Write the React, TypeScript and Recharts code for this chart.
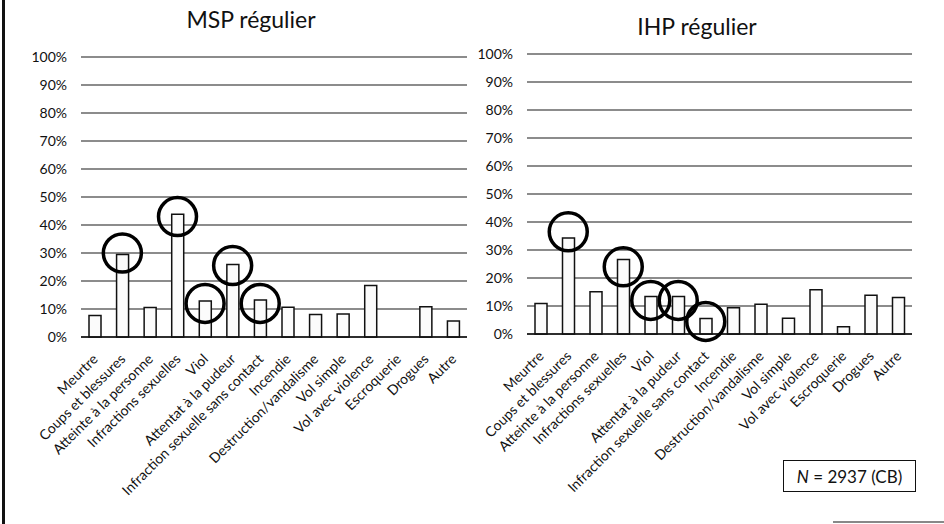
import React from 'react'
import { BarChart, Bar, XAxis, YAxis, CartesianGrid, ReferenceDot } from 'recharts'

const categories = [
  'Meurtre',
  'Coups et blessures',
  'Atteinte à la personne',
  'Infractions sexuelles',
  'Viol',
  'Attentat à la pudeur',
  'Infraction sexuelle sans contact',
  'Incendie',
  'Destruction/vandalisme',
  'Vol simple',
  'Vol avec violence',
  'Escroquerie',
  'Drogues',
  'Autre',
]

const mspValues = [7.7, 29.5, 10.5, 43.8, 12.9, 25.9, 13.2, 10.6, 8.0, 8.2, 18.4, 0, 10.8, 5.7]
const ihpValues = [10.9, 34.3, 15.1, 26.6, 13.4, 13.4, 5.5, 9.4, 10.6, 5.6, 15.8, 2.6, 13.8, 13.0]

// circled categories and the value where each circle sits
const mspCircled = ['Coups et blessures', 'Infractions sexuelles', 'Viol', 'Attentat à la pudeur', 'Infraction sexuelle sans contact']
const mspCircleAt = [30, 43, 12, 25.5, 12]
const ihpCircled = ['Coups et blessures', 'Infractions sexuelles', 'Viol', 'Attentat à la pudeur', 'Infraction sexuelle sans contact']
const ihpCircleAt = [36.5, 24, 12, 12, 4.5]

const yTicks = [0, 10, 20, 30, 40, 50, 60, 70, 80, 90, 100]

const FONT = 'Lato, "Open Sans", sans-serif'

const mspData = categories.map((c, i) => ({ cat: c, v: mspValues[i] }))
const ihpData = categories.map((c, i) => ({ cat: c, v: ihpValues[i] }))

function RotTick(props: any) {
  const { x, y, payload } = props
  const ax = x + 4
  const ay = y + 15
  return (
    <text
      x={ax}
      y={ay}
      textAnchor="end"
      fontSize={14}
      fontFamily={FONT}
      fill="#111"
      transform={`rotate(-45, ${ax}, ${ay})`}
    >
      {payload.value}
    </text>
  )
}

interface PanelProps {
  data: { cat: string; v: number }[]
  circled: string[]
  circleAt: number[]
  width: number
  yWidth: number
  margin: { top: number; right: number; bottom: number; left: number }
  xHeight: number
}

function Panel({ data, circled, circleAt, width, yWidth, margin, xHeight }: PanelProps) {
  return (
    <BarChart width={width} height={524} data={data} margin={margin} barSize={12}>
      <CartesianGrid horizontal vertical={false} stroke="#1a1a1a" strokeWidth={1.2} />
      <XAxis
        dataKey="cat"
        interval={0}
        tickLine={false}
        axisLine={{ stroke: '#111', strokeWidth: 1.5 }}
        height={xHeight}
        tick={<RotTick />}
      />
      <YAxis
        domain={[0, 100]}
        ticks={yTicks}
        width={yWidth}
        axisLine={false}
        tickLine={false}
        tickSize={0}
        tickMargin={14}
        tickFormatter={(v: number) => `${v}%`}
        tick={{ fontSize: 14, fontFamily: FONT, fill: '#111' }}
      />
      <Bar dataKey="v" fill="#fbfbfb" stroke="#111" strokeWidth={1.5} isAnimationActive={false} />
      {circled.map((c, i) => (
        <ReferenceDot
          key={c}
          x={c}
          y={circleAt[i]}
          r={19}
          fill="none"
          stroke="#000"
          strokeWidth={3.5}
        />
      ))}
    </BarChart>
  )
}

export default function App() {
  return (
    <div
      style={{
        position: 'absolute',
        left: 0,
        top: 0,
        width: 944,
        height: 524,
        background: '#fff',
        overflow: 'hidden',
        fontFamily: FONT,
      }}
    >
      <div style={{ position: 'absolute', left: 2, top: 0, width: 3, height: 524, background: '#111' }} />
      <div style={{ position: 'absolute', left: 833, top: 521, width: 111, height: 2, background: '#888' }} />

      <div style={{ position: 'absolute', left: 0, top: 0 }}>
        <Panel
          data={mspData}
          circled={mspCircled}
          circleAt={mspCircleAt}
          width={480}
          yWidth={81}
          margin={{ top: 57, right: 13, bottom: 7, left: 0 }}
          xHeight={180}
        />
      </div>
      <div style={{ position: 'absolute', left: 470, top: 0 }}>
        <Panel
          data={ihpData}
          circled={ihpCircled}
          circleAt={ihpCircleAt}
          width={474}
          yWidth={57}
          margin={{ top: 54, right: 32, bottom: 10, left: 0 }}
          xHeight={180}
        />
      </div>

      <div
        style={{
          position: 'absolute',
          left: 151,
          width: 200,
          top: 5,
          textAlign: 'center',
          fontSize: 23,
          color: '#111',
        }}
      >
        MSP régulier
      </div>
      <div
        style={{
          position: 'absolute',
          left: 597,
          width: 200,
          top: 12,
          textAlign: 'center',
          fontSize: 23,
          color: '#111',
        }}
      >
        IHP régulier
      </div>

      <div
        style={{
          position: 'absolute',
          left: 783,
          top: 460,
          width: 133,
          height: 32,
          border: '1.5px solid #111',
          boxSizing: 'border-box',
          display: 'flex',
          alignItems: 'center',
          justifyContent: 'center',
          fontSize: 17,
          color: '#111',
        }}
      >
        <span>
          <i>N</i> = 2937 (CB)
        </span>
      </div>
    </div>
  )
}
